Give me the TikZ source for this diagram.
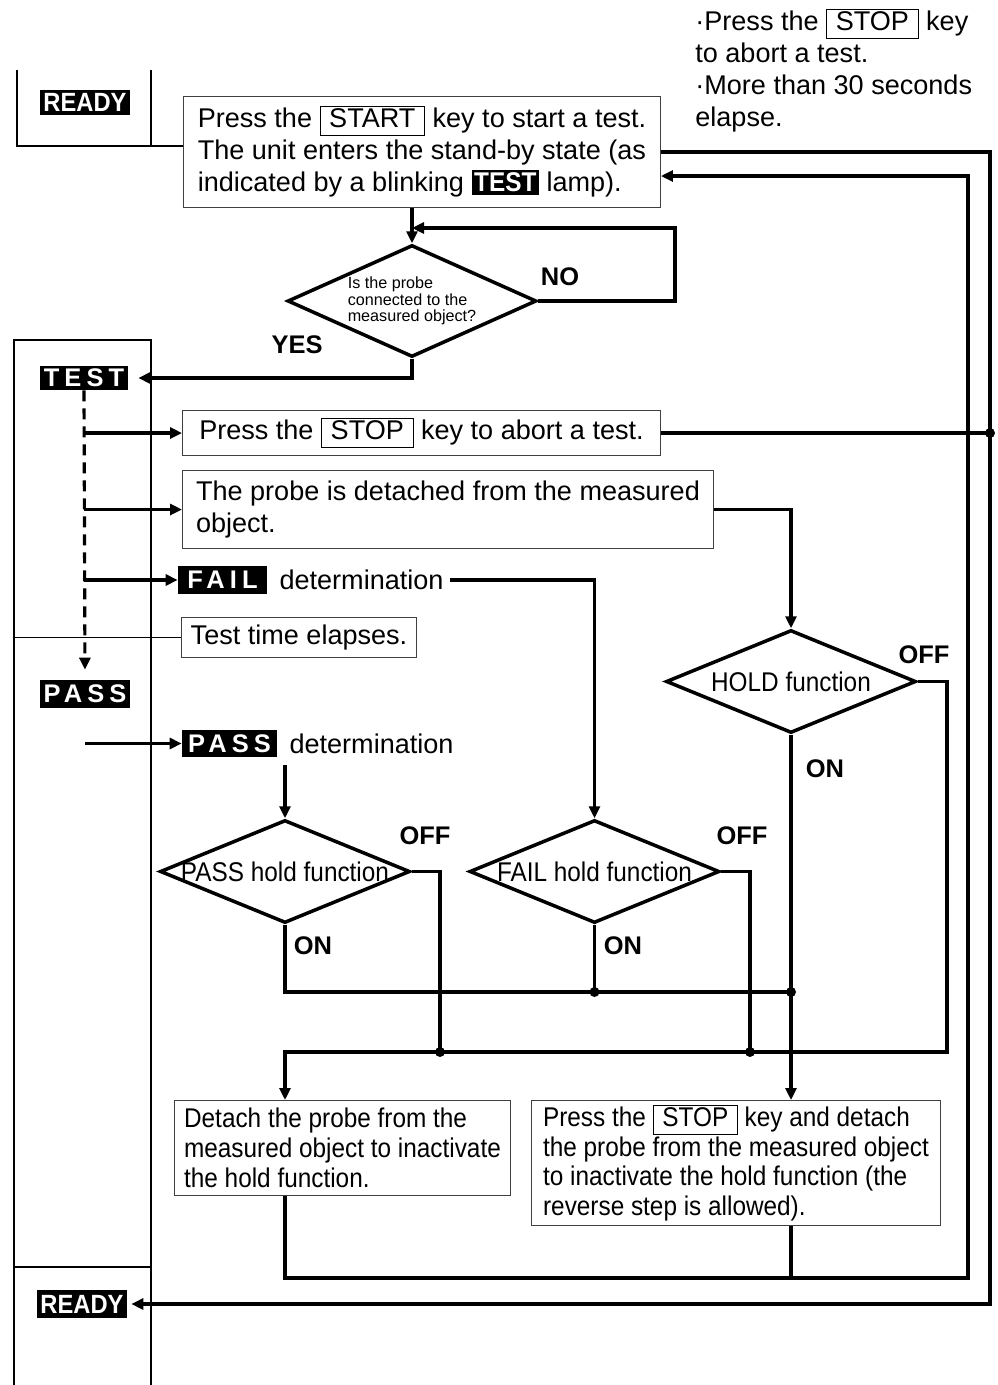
\documentclass[tikz,border=0pt]{standalone}
\usepackage{fontspec}
\setmainfont{Liberation Sans}
\newfontfamily\narrowfont[FakeStretch=0.9]{Liberation Sans}
\newfontfamily\lampfont[LetterSpace=20]{Liberation Sans}
\usetikzlibrary{shapes.geometric,arrows.meta,positioning,calc}
\newcommand\keycap[1]{{\setlength\fboxsep{1pt}\setlength\fboxrule{0.5pt}\fbox{\hspace{4pt}#1\vphantom{Ag}\hspace{4pt}}}}
\newcommand\lamp[1]{{\setlength\fboxsep{1.5pt}\colorbox{black}{\textcolor{white}{\narrowfont\bfseries #1}}}}
\begin{document}
\begin{tikzpicture}[x=0.02cm,y=-0.02cm,
    every node/.style={font=\fontsize{15.4}{18.2}\selectfont},
    stepbox/.style={draw=black!75,line width=0.6pt,align=left,inner sep=0pt,anchor=north west},
    decision/.style={diamond,draw,line width=2pt,inner sep=0pt,minimum width=5cm,minimum height=2.06cm},
    lampbox/.style={fill=black,text=white,inner sep=0pt,font=\lampfont\bfseries\fontsize{14.5}{16}\selectfont},
    readybox/.style={fill=black,text=white,inner sep=0pt,minimum width=1.8cm,font=\narrowfont\bfseries\fontsize{15}{16}\selectfont},
    answer/.style={font=\bfseries\fontsize{14.5}{16}\selectfont},
    flow/.style={line width=1.8pt,-{Triangle[length=0.24cm,width=0.22cm]}},
    wire/.style={line width=1.8pt},
    column/.style={line width=1.1pt},
    dot/.style={circle,fill,inner sep=0pt,minimum size=0.2cm}]
  \useasboundingbox (0,0) rectangle (997,1385);

  % left column
  \draw[column] (17,70) -- (17,146) -- (183,146);
  \draw[column] (151,70) -- (151,146);
  \draw[column] (14,1385) -- (14,340) -- (151,340) -- (151,1385);
  \draw[column] (14,1267) -- (151,1267);

  % lamps
  \node[readybox,minimum height=0.5cm] (readyA) at (85,102.5) {READY};
  \node[lampbox,minimum width=1.76cm,minimum height=0.48cm] (testlamp) at (84,378) {TEST};
  \node[lampbox,minimum width=1.8cm,minimum height=0.56cm] (passlamp) at (85,694) {PASS};
  \node[readybox,minimum height=0.56cm] (readyB) at (82,1304) {READY};

  % note
  \node[anchor=north west,align=left,inner sep=0pt] (note) at (695,9)
    {·Press the \keycap{STOP} key\\to abort a test.\\·More than 30 seconds\\elapse.};

  % steps
  \node[stepbox,minimum width=9.54cm,minimum height=2.22cm] (start) at (183,96)
    {Press the \keycap{START} key to start a test.\\The unit enters the stand-by state (as\\indicated by a blinking \lamp{TEST} lamp).};
  \node[decision,minimum width=4.98cm,minimum height=2.24cm,
    label={[align=left,font=\fontsize{9.2}{9.4}\selectfont]center:Is the probe\\connected to the\\measured object?}] (probe) at (412,301) {};
  \node[stepbox,minimum width=9.56cm,minimum height=0.9cm] (stopbox) at (182,410)
    {Press the \keycap{STOP} key to abort a test.};
  \node[stepbox,minimum width=10.62cm,minimum height=1.56cm] (detach) at (182,470)
    {The probe is detached from the measured\\object.};
  \node[lampbox,minimum width=1.78cm,minimum height=0.56cm] (faillamp) at (222.5,580) {FAIL};
  \node[right=0.12cm of faillamp] (faildet) {determination};
  \node[stepbox,minimum width=4.7cm,minimum height=0.8cm] (timebox) at (181,617) {Test time elapses.};
  \node[lampbox,minimum width=1.9cm,minimum height=0.54cm] (passlampB) at (229.5,743.5) {PASS};
  \node[right=0.12cm of passlampB] (passdet) {determination};

  \node[decision,label={[font=\narrowfont\fontsize{15.4}{17}\selectfont]center:HOLD function}] (hold) at (791,681.5) {};
  \node[decision,label={[font=\narrowfont\fontsize{15.4}{17}\selectfont]center:PASS hold function}] (passhold) at (285,871.5) {};
  \node[decision,label={[font=\narrowfont\fontsize{15.4}{17}\selectfont]center:FAIL hold function}] (failhold) at (594.5,871.5) {};

  \node[stepbox,minimum width=6.72cm,minimum height=1.9cm,font=\narrowfont\fontsize{15.4}{17}\selectfont] (release) at (174,1100)
    {Detach the probe from the\\measured object to inactivate\\the hold function.};
  \node[stepbox,minimum width=8.18cm,minimum height=2.5cm,font=\narrowfont\fontsize{15.4}{17}\selectfont] (stoprelease) at (531,1100)
    {Press the \keycap{STOP} key and detach\\the probe from the measured object\\to inactivate the hold function (the\\reverse step is allowed).};

  % answers
  \node[answer] (no) at (560,277) {NO};
  \node[answer] (yes) at (297,345) {YES};
  \node[answer] (holdoff) at (924,655) {OFF};
  \node[answer] (holdon) at (825,769) {ON};
  \node[answer] (passoff) at (425,836) {OFF};
  \node[answer] (passon) at (313,946) {ON};
  \node[answer] (failoff) at (742,836) {OFF};
  \node[answer] (failon) at (623,946) {ON};

  % junctions
  \coordinate (noloop) at (675,228);
  \coordinate (outer) at (990,0);
  \coordinate (colleft) at (14,0);
  \coordinate (back) at (968,1278);
  \coordinate (offcorner) at (947,1052);
  \node[dot] (stopjoin) at (stopbox.east -| outer) {};
  \node[dot] (onjoin) at (791,992) {};
  \node[dot] (failonjoin) at (failhold.south |- onjoin) {};
  \node[dot] (passoffjoin) at (440,1052) {};
  \node[dot] (failoffjoin) at (750,1052) {};

  % connectors
  \draw[flow] (probe.north |- start.south) -- (probe.north);
  \draw[flow] (probe.east) -| (noloop) -- (noloop -| probe.north);
  \draw[flow,shorten >=0.2cm] (probe.south) |- (testlamp.east);
  \draw[flow,dash pattern=on 0.22cm off 0.14cm,shorten >=0.2cm] (testlamp.south) -- (passlamp.north);
  \draw[flow] (testlamp.south |- stopbox.west) -- (stopbox.west);
  \draw[flow] (testlamp.south |- detach.west) -- (detach.west);
  \draw[flow] (testlamp.south |- faillamp.west) -- (faillamp.west);
  \draw[column] (colleft |- timebox.west) -- (timebox.west);
  \draw[wire] (stopbox.east) -- (stopjoin.center);
  \draw[flow,shorten >=0.08cm] (start.east) -| (outer |- readyB.east) -- (readyB.east);
  \draw[flow] (detach.east) -| (hold.north);
  \draw[flow] (faildet.east) -| (failhold.north);
  \draw[flow] (passlamp.south |- passlampB.west) -- (passlampB.west);
  \draw[flow,shorten <=0.16cm] (passhold.north |- passlampB.south) -- (passhold.north);
  \draw[wire] (passhold.south) |- (onjoin.center);
  \draw[wire] (failhold.south) -- (failonjoin.center);
  \draw[flow] (hold.south) -- (hold.south |- stoprelease.north);
  \draw[wire] (passhold.east) -| (passoffjoin.center);
  \draw[wire] (failhold.east) -| (failoffjoin.center);
  \draw[flow] (hold.east) -| (offcorner) -- (offcorner -| passhold.south) -- (passhold.south |- release.north);
  \draw[flow] (passhold.south |- release.south) |- (back) |- ([yshift=-0.48cm]start.east);
  \draw[wire] (hold.south |- stoprelease.south) -- (hold.south |- back);
\end{tikzpicture}
\end{document}
